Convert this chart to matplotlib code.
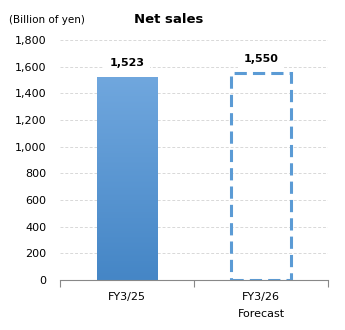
import numpy as np
import matplotlib.pyplot as plt
from matplotlib.colors import LinearSegmentedColormap

categories = ['FY3/25', 'FY3/26']
values = [1523, 1550]
sub_labels = ['', 'Forecast']
yticks = [0, 200, 400, 600, 800, 1000, 1200, 1400, 1600, 1800]

plt.rcParams['font.family'] = 'DejaVu Sans'

fig = plt.figure(figsize=(3.45, 3.3), dpi=100)
ax = fig.add_axes([0.174, 0.1515, 0.777, 0.727])

x = np.arange(len(categories))
width = 0.45

# actual: gradient-filled bar
bar = ax.bar(x[0], values[0], width=width, color='none', zorder=2)[0]
grad = LinearSegmentedColormap.from_list('g', ['#4586c6', '#70a7de'])
img = ax.imshow(np.linspace(0, 1, 256).reshape(-1, 1), cmap=grad, origin='lower',
                aspect='auto', extent=[x[0] - width / 2, x[0] + width / 2, 0, values[0]],
                zorder=2)
img.set_clip_path(bar)

# forecast: dashed outline
ax.bar(x[1], values[1], width=width, facecolor='none', edgecolor='#5b9bd5',
       linewidth=2.2, linestyle=(0, (4, 2)), zorder=2)

for xi, v in zip(x, values):
    ax.text(xi, v + 70, f'{v:,}', ha='center', va='bottom', fontsize=8,
            fontweight='bold', zorder=4,
            bbox=dict(facecolor='white', edgecolor='none', pad=4))

ax.set_xlim(-0.5, 1.5)
ax.set_ylim(0, 1800)
ax.set_yticks(yticks)
ax.set_yticklabels([f'{t:,}' for t in yticks], fontsize=8)
ax.set_xticks([-0.5, 0.5, 1.5], minor=False)
ax.set_xticklabels([])
ax.tick_params(axis='x', direction='out', length=5, color='#888888')
ax.tick_params(axis='y', length=0, pad=10)
for xi, c, s in zip(x, categories, sub_labels):
    ax.text(xi, -90, c, ha='center', va='top', fontsize=8)
    if s:
        ax.text(xi, -215, s, ha='center', va='top', fontsize=8)

ax.grid(axis='y', color='#d8d8d8', linestyle=(0, (3, 2)), linewidth=0.7, zorder=0)
for side in ['top', 'right', 'left']:
    ax.spines[side].set_visible(False)
ax.spines['bottom'].set_color('#888888')
ax.spines['bottom'].set_zorder(3)

fig.text(0.025, 0.94, '(Billion of yen)', fontsize=7.5, va='center')
fig.text(0.49, 0.94, 'Net sales', fontsize=9.5, fontweight='bold',
         ha='center', va='center')

fig.savefig('out.png', dpi=100)
